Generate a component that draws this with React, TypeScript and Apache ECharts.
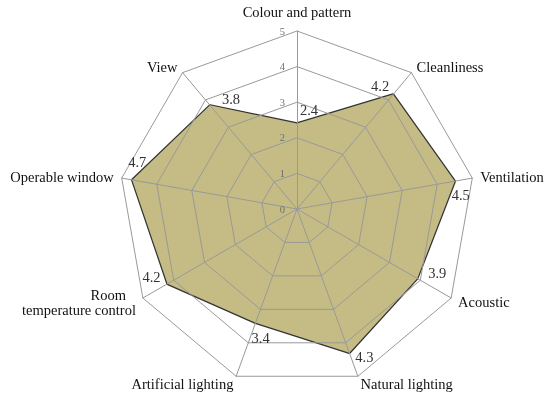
import React, { useEffect, useRef } from "react";
import * as echarts from "echarts";

// Indicators listed counter-clockwise from the top (ECharts radar order)
const indicators = [
  "Colour and pattern",
  "View",
  "Operable window",
  "Room\ntemperature control",
  "Artificial lighting",
  "Natural lighting",
  "Acoustic",
  "Ventilation",
  "Cleanliness",
];
const values = [2.4, 3.8, 4.7, 4.2, 3.4, 4.3, 3.9, 4.5, 4.2];
const maxValue = 5;

// label offsets relative to each vertex (style only)
const labelOffsets: [number, number][] = [
  [12, -14],
  [21, -6],
  [5, -18],
  [-16, -7],
  [5, 15],
  [15, 4],
  [20, -5],
  [6, 14],
  [-13, -8],
];

const SERIF = "'Liberation Serif', 'DejaVu Serif', serif";

export default function App() {
  const ref = useRef<HTMLDivElement>(null);
  useEffect(() => {
    if (!ref.current) return;
    const chart = echarts.init(ref.current, undefined, { renderer: "svg" });
    const labelSeries = values.map((v, i) => ({
      type: "radar" as const,
      z: 10,
      symbol: "circle",
      symbolSize: 1,
      itemStyle: { color: "rgba(0,0,0,0)" },
      lineStyle: { width: 0, opacity: 0 },
      silent: true,
      data: [
        {
          value: values.map((x, j) => (j === i ? x : -1)),
          label: {
            show: true,
            position: "inside",
            offset: labelOffsets[i],
            color: "#333",
            fontSize: 14.5,
            fontFamily: SERIF,
            formatter: (p: any) => {
              const val = Array.isArray(p.value) ? p.value[i] : p.value;
              return val >= 0 ? String(val) : "";
            },
          },
        },
      ],
    }));
    const baseName = { color: "#111", fontSize: 14.5, fontFamily: SERIF };
    chart.setOption({
      animation: false,
      radar: {
        z: 5,
        center: [297, 209],
        radius: 178,
        startAngle: 90,
        shape: "polygon",
        splitNumber: 5,
        nameGap: 8,
        axisName: {
          ...baseName,
          formatter: (name: string) => {
            if (name === "Colour and pattern") return `{t|${name}}`;
            if (name.indexOf("\n") >= 0) {
              const [a, b] = name.split("\n");
              return `{r|${a}}\n{n|${b}}`;
            }
            return name;
          },
          rich: {
            t: { ...baseName, padding: [0, 0, 4, 0] },
            r: { ...baseName, padding: [0, 10, 0, 0] },
            n: { ...baseName },
          },
        },
        splitLine: { lineStyle: { color: "#999", width: 1 } },
        splitArea: { show: false },
        axisLine: { lineStyle: { color: "#999", width: 1 } },
        axisTick: { show: false },
        axisLabel: { show: false },
        indicator: indicators.map((name, i) =>
          i === 0
            ? {
                name,
                min: 0,
                max: maxValue,
                axisLabel: {
                  show: true,
                  color: "#6f6f6f",
                  fontSize: 10.5,
                  fontFamily: SERIF,
                  margin: 12,
                },
              }
            : { name, min: 0, max: maxValue }
        ),
      },
      series: [
        {
          type: "radar",
          z: 2,
          symbol: "none",
          lineStyle: { color: "#333", width: 2.5 },
          areaStyle: { color: "#c4bc84", opacity: 1 },
          data: [{ value: values }],
        },
        ...labelSeries,
      ],
    });
    return () => chart.dispose();
  }, []);
  return (
    <div
      ref={ref}
      style={{ position: "fixed", left: 0, top: 0, width: 550, height: 407 }}
    />
  );
}
